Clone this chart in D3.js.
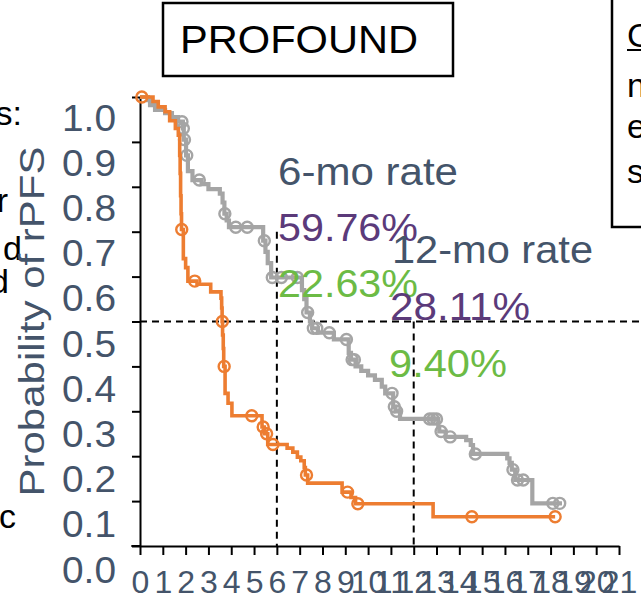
<!DOCTYPE html>
<html>
<head>
<meta charset="utf-8">
<script src="https://cdn.jsdelivr.net/npm/d3@7"></script>
<style>
  body { margin: 0; background: #fff; }
  svg { display: block; }
  text { font-family: "Liberation Sans", Arial, sans-serif; }
</style>
</head>
<body>
<div id="chart"></div>
<script>
// step events: time (months) and survival after the drop
var grayT = [0.35, 0.44, 0.66, 1.10, 1.40, 1.67, 1.88, 1.92, 2.02, 2.10, 2.30, 2.70, 3.00, 3.50, 3.62, 3.70,
  3.80, 3.90, 5.40, 5.50, 5.60, 5.75, 7.10, 7.20, 7.30, 7.45, 7.55, 7.80, 8.50, 9.15, 9.25, 9.45, 9.70,
  10.00, 10.30, 10.60, 10.75, 11.10, 11.20, 11.40, 13.08, 13.12, 13.40, 14.30, 14.50, 14.60, 16.10, 16.20,
  16.30, 16.45, 17.20];
var grayS = [0.993, 0.982, 0.971, 0.964, 0.955, 0.945, 0.930, 0.905, 0.870, 0.835, 0.815, 0.806, 0.795, 0.785,
  0.765, 0.740, 0.725, 0.710, 0.680, 0.655, 0.630, 0.598, 0.570, 0.550, 0.520, 0.500, 0.485, 0.475, 0.460,
  0.430, 0.415, 0.400, 0.390, 0.380, 0.370, 0.355, 0.340, 0.310, 0.300, 0.283, 0.265, 0.255, 0.243, 0.236,
  0.225, 0.205, 0.195, 0.185, 0.170, 0.147, 0.095];
var grayCensor = [1.84, 1.90, 1.95, 2.05, 2.60, 3.72, 4.20, 4.70, 5.45, 5.80, 6.20, 6.90, 7.35, 7.60, 7.75,
  8.30, 9.05, 9.30, 9.40, 11.05, 11.15, 11.25, 12.70, 12.85, 13.00, 13.20, 13.60, 14.70, 16.35, 16.55,
  16.80, 18.10, 18.40];
var grayEnd = 18.5;

var orangeT = [0.57, 0.80, 1.10, 1.30, 1.55, 1.68, 1.74, 1.76, 1.78, 1.80, 1.82, 1.90, 2.00, 2.10, 2.50, 3.10,
  3.55, 3.58, 3.60, 3.62, 3.65, 3.67, 3.73, 3.86, 4.03, 5.35, 5.45, 5.60, 6.45, 6.70, 6.90, 7.05, 7.20,
  7.25, 7.35, 8.86, 9.25, 9.45, 12.85];
var orangeS = [0.990, 0.978, 0.967, 0.947, 0.930, 0.915, 0.870, 0.830, 0.780, 0.740, 0.705, 0.640, 0.620,
  0.590, 0.583, 0.566, 0.552, 0.530, 0.500, 0.470, 0.440, 0.400, 0.340, 0.318, 0.290, 0.265, 0.250, 0.226,
  0.218, 0.209, 0.198, 0.190, 0.175, 0.158, 0.140, 0.120, 0.108, 0.094, 0.065];
var orangeCensor = [0.08, 1.83, 2.40, 3.61, 3.69, 4.90, 5.40, 5.55, 5.83, 7.30, 9.10, 9.55, 14.55, 18.20];
var orangeEnd = 18.2;

var xTicks = d3.range(0, 22);
var yTicks = [0, 0.1, 0.2, 0.3, 0.4, 0.5, 0.6, 0.7, 0.8, 0.9, 1.0];

var slate = "#44546A", purple = "#5B3A7A", green = "#6CBB45";

var width = 641, height = 598;
var svg = d3.select("#chart").append("svg")
  .attr("width", width)
  .attr("height", height);

var x = d3.scaleLinear().domain([0, 21]).range([140, 619]);
var y = d3.scaleLinear().domain([0, 1]).range([546, 97]);
// tick labels sit a little lower and wider-spaced than the ticks
var yLab = d3.scaleLinear().domain([0, 1]).range([582, 130]);

// left edge fragments of neighbouring text
var frags = [["s:", 22, 125], ["r", 8, 212], ["d", 22, 260], ["d", 9, 293], ["c", 16, 528]];
svg.selectAll("text.frag").data(frags).enter().append("text")
  .attr("class", "frag")
  .attr("x", function(d) { return d[1]; })
  .attr("y", function(d) { return d[2]; })
  .attr("text-anchor", "end")
  .attr("font-size", 34)
  .attr("fill", "#000")
  .text(function(d) { return d[0]; });

// title box
svg.append("rect")
  .attr("x", 163).attr("y", 3).attr("width", 290).attr("height", 73)
  .attr("fill", "#fff").attr("stroke", "#000").attr("stroke-width", 2.5);
svg.append("text")
  .attr("x", 180).attr("y", 53)
  .attr("font-size", 39)
  .attr("textLength", 238).attr("lengthAdjust", "spacingAndGlyphs")
  .attr("fill", "#000")
  .text("PROFOUND");

// right box (cut off)
svg.append("rect")
  .attr("x", 612).attr("y", -5).attr("width", 100).attr("height", 232)
  .attr("fill", "#fff").attr("stroke", "#000").attr("stroke-width", 2.5);
var rightTxt = [["C", 47], ["n", 97], ["e", 138], ["s", 183]];
svg.selectAll("text.rt").data(rightTxt).enter().append("text")
  .attr("class", "rt")
  .attr("x", 627)
  .attr("y", function(d) { return d[1]; })
  .attr("font-size", 34)
  .attr("fill", "#000")
  .text(function(d) { return d[0]; });
svg.append("line")
  .attr("x1", 627).attr("x2", 641).attr("y1", 50).attr("y2", 50)
  .attr("stroke", "#000").attr("stroke-width", 2);

// axes
var yAxis = svg.append("g")
  .attr("transform", "translate(" + x(0) + ",0)")
  .call(d3.axisLeft(y).tickValues(yTicks).tickSize(8).tickSizeOuter(0).tickFormat(d3.format(".1f")));
yAxis.selectAll("line, path").attr("stroke", "#000").attr("stroke-width", 2);
yAxis.selectAll("text")
  .attr("dy", null)
  .attr("x", -24)
  .attr("y", function(d) { return yLab(d) - y(d); })
  .attr("font-size", 36)
  .attr("textLength", 54).attr("lengthAdjust", "spacingAndGlyphs")
  .attr("font-family", "'Liberation Sans', Arial, sans-serif")
  .attr("fill", slate);

var xAxis = svg.append("g")
  .attr("transform", "translate(0," + y(0) + ")")
  .call(d3.axisBottom(x).tickValues(xTicks).tickSize(9).tickSizeOuter(0));
xAxis.selectAll("line, path").attr("stroke", "#000").attr("stroke-width", 2);
xAxis.selectAll("text")
  .attr("dy", null)
  .attr("y", 47)
  .attr("font-size", 32)
  .attr("font-family", "'Liberation Sans', Arial, sans-serif")
  .attr("fill", slate);
svg.append("line")
  .attr("x1", x(-0.38)).attr("x2", x(0))
  .attr("y1", y(0)).attr("y2", y(0))
  .attr("stroke", "#000").attr("stroke-width", 2);

svg.append("text")
  .attr("transform", "translate(44," + y(0.5) + ") rotate(-90)")
  .attr("text-anchor", "middle")
  .attr("font-size", 35)
  .attr("textLength", 350).attr("lengthAdjust", "spacingAndGlyphs")
  .attr("fill", slate)
  .text("Probability of rPFS");

// reference lines
var dash = "7,5";
svg.append("line")
  .attr("x1", x(0)).attr("x2", width)
  .attr("y1", y(0.5)).attr("y2", y(0.5))
  .attr("stroke", "#000").attr("stroke-width", 2).attr("stroke-dasharray", dash);
svg.append("line")
  .attr("x1", x(6)).attr("x2", x(6))
  .attr("y1", y(0.7)).attr("y2", y(0))
  .attr("stroke", "#000").attr("stroke-width", 2).attr("stroke-dasharray", dash);
svg.append("line")
  .attr("x1", x(12)).attr("x2", x(12))
  .attr("y1", y(0.5)).attr("y2", y(0))
  .attr("stroke", "#000").attr("stroke-width", 2).attr("stroke-dasharray", dash);

// curves
function stepPoints(T, S, end) {
  var pts = [[0, 1]];
  for (var i = 0; i < T.length; i++) pts.push([T[i], S[i]]);
  pts.push([end, S[S.length - 1]]);
  return pts;
}
function survAt(T, S, t) {
  var s = 1;
  for (var i = 0; i < T.length; i++) { if (T[i] <= t) s = S[i]; }
  return s;
}
var line = d3.line()
  .x(function(d) { return x(d[0]); })
  .y(function(d) { return y(d[1]); })
  .curve(d3.curveStepAfter);

function drawArm(T, S, C, end, color, w) {
  svg.append("path")
    .datum(stepPoints(T, S, end))
    .attr("d", line)
    .attr("fill", "none")
    .attr("stroke", color)
    .attr("stroke-width", w);
  svg.append("g").selectAll("circle")
    .data(C).enter().append("circle")
    .attr("cx", function(d) { return x(d); })
    .attr("cy", function(d) { return y(survAt(T, S, d)); })
    .attr("r", 5.5)
    .attr("fill", "none")
    .attr("stroke", color)
    .attr("stroke-width", 2.4);
}
drawArm(grayT, grayS, grayCensor, grayEnd, "#A5A5A5", 4.2);
drawArm(orangeT, orangeS, orangeCensor, orangeEnd, "#ED7D31", 3.6);

// rate annotations
var notes = [
  ["6-mo rate", 278, 185, 180, slate],
  ["59.76%", 278, 241, 140, purple],
  ["12-mo rate", 392, 263, 201, slate],
  ["22.63%", 278, 297, 140, green],
  ["28.11%", 390, 320, 140, purple],
  ["9.40%", 389, 377, 118, green]
];
svg.selectAll("text.note").data(notes).enter().append("text")
  .attr("class", "note")
  .attr("x", function(d) { return d[1]; })
  .attr("y", function(d) { return d[2]; })
  .attr("font-size", 38)
  .attr("textLength", function(d) { return d[3]; })
  .attr("lengthAdjust", "spacingAndGlyphs")
  .attr("fill", function(d) { return d[4]; })
  .text(function(d) { return d[0]; });
</script>
</body>
</html>
